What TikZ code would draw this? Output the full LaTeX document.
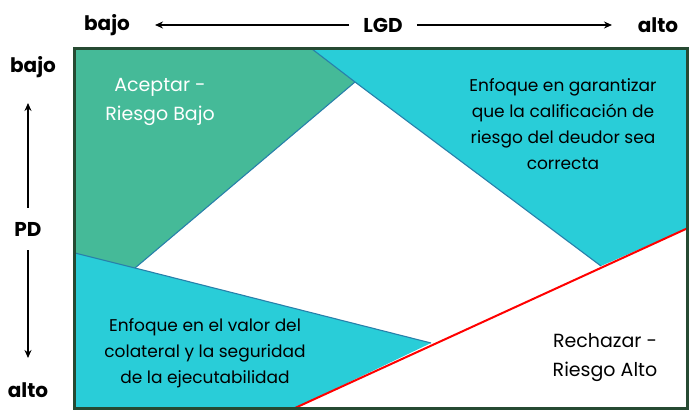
\documentclass[tikz,border=0pt]{standalone}
\usepackage{fontspec}
\setmainfont{Poppins}
\usetikzlibrary{arrows.meta}
\definecolor{grn}{RGB}{69,186,152}
\definecolor{tl}{RGB}{41,205,216}
\definecolor{bord}{RGB}{38,74,50}
\definecolor{edge}{RGB}{40,128,170}
\tikzset{
  lbl/.style={font=\fontsize{20}{24}\selectfont\bfseries, inner sep=0pt},
  body/.style={font=\fontsize{17}{26}\selectfont, align=center, inner sep=0pt},
  big/.style={font=\fontsize{19}{29}\selectfont},
  axis/.style={line width=2.2pt, -{Stealth[length=8pt,width=7pt]}},
  region/.style={draw=edge, line width=1.1pt, line join=round}
}
\begin{document}
\begin{tikzpicture}[x=1pt,y=-1pt]
\useasboundingbox (0,0) rectangle (696,418);
% regions
\coordinate (tl) at (75,49);
\coordinate (tg) at (312,49);
\coordinate (ap) at (355,82);
\coordinate (lg) at (135,268);
\coordinate (lb) at (75,253);
\coordinate (bt) at (431,343);
\coordinate (rb) at (295,408);
\coordinate (bl) at (75,408);
\coordinate (tr) at (688,49);
\coordinate (rr) at (688,228);
\coordinate (rt) at (601,266);
\fill[grn] (tl) -- (tg) -- (ap) -- (lg) -- (lb) -- cycle;
\fill[tl] (lb) -- (lg) -- (bt) -- (rb) -- (bl) -- cycle;
\fill[tl] (tg) -- (tr) -- (rr) -- (rt) -- (ap) -- cycle;
\draw[region] (tg) -- (ap) -- (rt);
\draw[region] (ap) -- (lg);
\draw[region] (lb) -- (lg) -- (bt);
\draw[red, line width=2pt] (rb) -- (rr);
\draw[bord, line width=3pt] (74.5,48.5) rectangle (687.5,408.5);
% texts
\node[body, big, text=white] (acc) at (160,102) {Aceptar -\\Riesgo Bajo};
\node[body] (gar) at (563,124) {Enfoque en garantizar\\que la calificación de\\riesgo del deudor sea\\correcta};
\node[body] (col) at (205,353) {Enfoque en el valor del\\colateral y la seguridad\\de la ejecutabilidad};
\node[body, big] (rec) at (605,358) {Rechazar -\\Riesgo Alto};
% axes
\node[lbl] (lb1) at (107,25) {bajo};
\node[lbl] (lgd) at (383,25) {LGD};
\node[lbl] (la1) at (658,25) {alto};
\coordinate (lgdl) at (155,25);
\coordinate (lgdr) at (612,25);
\draw[axis] (lgd.west) ++(-14,0) -- (lgdl);
\draw[axis] (lgd.east) ++(14,0) -- (lgdr);
\node[lbl] (lb2) at (33,67) {bajo};
\node[lbl] (pd) at (28,229) {PD};
\node[lbl] (la2) at (28,390) {alto};
\coordinate (pdt) at (28,103);
\coordinate (pdb) at (28,358);
\draw[axis] (pd.north) ++(0,-14) -- (pdt);
\draw[axis] (pd.south) ++(0,14) -- (pdb);
\end{tikzpicture}
\end{document}
